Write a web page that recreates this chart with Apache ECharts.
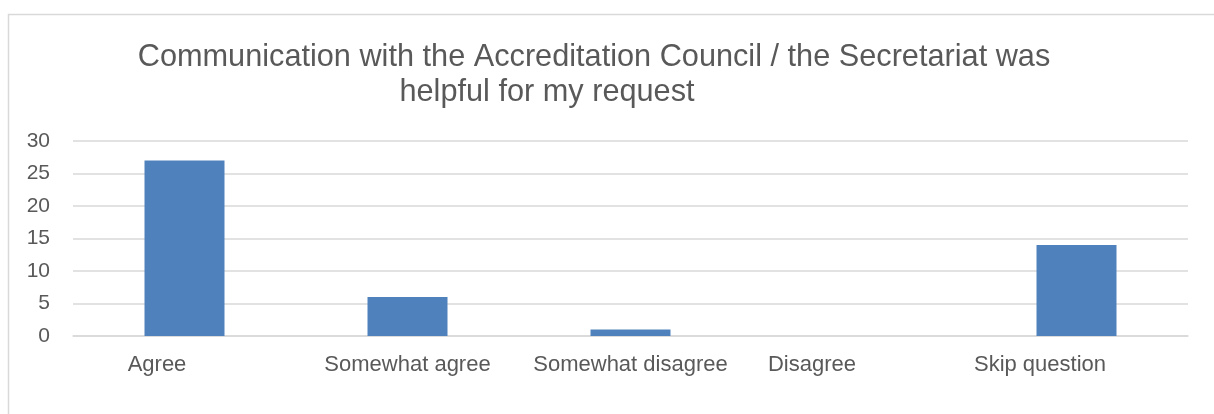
<!DOCTYPE html>
<html>
<head>
<meta charset="utf-8">
<script src="https://cdn.jsdelivr.net/npm/echarts@6/dist/echarts.min.js"></script>
<style>
  html, body { margin: 0; padding: 0; background: #fff; }
  #main { width: 1214px; height: 414px; }
</style>
</head>
<body>
<div id="main"></div>
<script>
// 数据
var categories = ['Agree', 'Somewhat agree', 'Somewhat disagree', 'Disagree', 'Skip question'];
var counts = [27, 6, 1, 0, 14];
var yTicks = [0, 5, 10, 15, 20, 25, 30];

// label nudges (px of right padding) so the x labels sit like the original
var labelPadRight = [55, 0, 0, 83, 73];

var chart = echarts.init(document.getElementById('main'));
var textColor = '#595959';
var font = '"Liberation Sans", Arial, sans-serif';

var rich = {};
labelPadRight.forEach(function (p, i) {
    rich['c' + i] = {
        fontSize: 22,
        color: textColor,
        fontFamily: font,
        padding: [0, p, 0, 0]
    };
});

var option = {
    animation: false,
    backgroundColor: '#fff',
    textStyle: { fontFamily: font },
    title: [{
        text: 'Communication with the Accreditation Council / the Secretariat was',
        left: 589,
        top: 37,
        textAlign: 'center',
        textStyle: { fontSize: 30.7, fontWeight: 'normal', color: textColor, fontFamily: font }
    }, {
        text: 'helpful for my request',
        left: 542,
        top: 72,
        textAlign: 'center',
        textStyle: { fontSize: 30.7, fontWeight: 'normal', color: textColor, fontFamily: font }
    }],
    graphic: [{
        type: 'polyline',
        shape: { points: [[8.5, 414], [8.5, 14.5], [1214, 14.5]] },
        style: { stroke: '#d9d9d9', lineWidth: 1.5, fill: null },
        silent: true
    }],
    grid: {
        left: 73,
        right: 26,
        top: 141,
        bottom: 78,
        containLabel: false
    },
    xAxis: {
        type: 'category',
        data: categories,
        axisLine: { show: true, lineStyle: { color: '#d9d9d9', width: 1.5 } },
        axisTick: { show: false },
        axisLabel: {
            interval: 0,
            margin: 18,
            formatter: function (value, idx) {
                return '{c' + idx + '|' + value + '}';
            },
            rich: rich
        }
    },
    yAxis: {
        type: 'value',
        min: yTicks[0],
        max: yTicks[yTicks.length - 1],
        interval: yTicks[1] - yTicks[0],
        axisLine: { show: false },
        axisTick: { show: false },
        axisLabel: { fontSize: 21, color: textColor, margin: 23, fontFamily: font },
        splitLine: { lineStyle: { color: '#d9d9d9', width: 1.5 } }
    },
    series: [{
        name: 'Count',
        type: 'bar',
        data: counts,
        barWidth: 80,
        itemStyle: { color: '#4f81bd' }
    }]
};
chart.setOption(option);
</script>
</body>
</html>
